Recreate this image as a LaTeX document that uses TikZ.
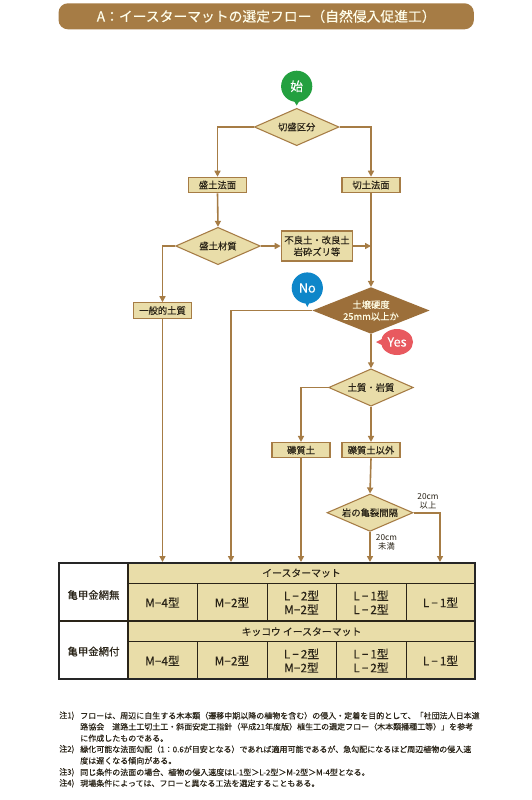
\documentclass[tikz,border=0pt]{standalone}
\usepackage{fontspec}
\setmainfont{Noto Sans CJK JP}
\newfontfamily\med[FakeBold=0.12]{Noto Sans CJK JP}
\newfontfamily\nte[FakeBold=0.08]{Noto Sans CJK JP}
\newfontfamily\lat[FakeBold=0.12]{Noto Sans}
\usetikzlibrary{shapes.geometric,arrows.meta,calc}
\definecolor{brn}{HTML}{A67C45}
\definecolor{dbrn}{HTML}{9C6F3A}
\definecolor{cream}{HTML}{E9DDA9}
\definecolor{grn}{HTML}{23A03F}
\definecolor{blu}{HTML}{0E86C9}
\definecolor{rd}{HTML}{E8595F}
\definecolor{txt}{HTML}{2A2418}
\newcommand{\mn}{{\lat −}}
\tikzset{
 flow/.style={draw=brn,line width=1.2pt,-{Triangle[length=4.5pt,width=4.5pt]}},
 boxn/.style={draw=brn,line width=0.9pt,fill=cream,inner sep=0pt,minimum height=11.5pt,minimum width=43.5pt,font=\med\fontsize{7pt}{8.8pt}\selectfont,text=txt,align=center},
 dia/.style={diamond,aspect=2.4,draw=brn,line width=0.8pt,fill=cream,inner sep=0pt,minimum width=63.5pt,minimum height=28pt,font=\med\fontsize{7pt}{8.5pt}\selectfont,text=txt,align=center},
 ctext/.style={font=\med\fontsize{8.8pt}{10.3pt}\selectfont,text=txt,align=center,inner sep=0pt},
 htext/.style={font=\med\fontsize{7.4pt}{9pt}\selectfont,text=txt,inner sep=0pt},
 stext/.style={font=\med\fontsize{7.8pt}{9pt}\selectfont,text=txt,inner sep=0pt},
 note/.style={anchor=west,inner sep=0pt,text=txt,font=\nte\fontsize{6pt}{8pt}\selectfont},
 small/.style={inner sep=0pt,text=txt,align=center,font=\fontsize{6.2pt}{6.9pt}\selectfont},
 bubble/.style={inner sep=0pt,text=white,font=\med\fontsize{9.5pt}{10pt}\selectfont},
}
\begin{document}
\begin{tikzpicture}[x=0.75pt,y=-0.75pt]
\useasboundingbox (0,0) rectangle (532,800);
\fill[white] (0,0) rectangle (532,800);
% title
\node[fill=brn,rounded corners=7pt,minimum width=311.5pt,minimum height=19.5pt,inner sep=0pt,text=white!92!yellow,font=\med\fontsize{10.35pt}{12pt}\selectfont] (title) at (266.2,16.3) {A：イースターマットの選定フロー（自然侵入促進工）\hspace{2pt}};
% flow nodes
\node[dia] (d1) at (296.7,127) {切盛区分};
\node[boxn] (b1) at (217.5,185) {盛土法面};
\node[boxn] (b2) at (371,185) {切土法面};
\node[dia] (d2) at (218,246) {盛土材質};
\node[boxn,minimum width=53.5pt,minimum height=22.5pt] (b3) at (317,246) {不良土・改良土\\岩砕ズリ等};
\node[boxn] (b4) at (162.5,310.5) {一般的土質};
\node[diamond,aspect=2.5,fill=dbrn,inner sep=0pt,minimum width=88pt,minimum height=35pt,text=white!90!yellow,align=center,font=\med\fontsize{7pt}{8.8pt}\selectfont] (d3) at (371,310.5) {土壌硬度\\25mm以上か};
\node[dia] (d4) at (371,387.5) {土質・岩質};
\node[boxn] (b5) at (301,450.2) {礫質土};
\node[boxn] (b6) at (371,450.2) {礫質土以外};
\node[dia,minimum width=64.5pt] (d5) at (370,512.7) {岩の亀裂間隔};
% table
\fill[white] (59,563) rectangle (128,679);
\fill[cream] (128,563) rectangle (475,679);
\draw[txt,line width=0.6pt] (128,583) -- (475,583) (128,641) -- (475,641);
\draw[txt,line width=0.6pt] (197,583) -- (197,621) (267,583) -- (267,621) (336,583) -- (336,621) (406,583) -- (406,621);
\draw[txt,line width=0.6pt] (197,641) -- (197,679) (267,641) -- (267,679) (336,641) -- (336,679) (406,641) -- (406,679);
\draw[txt,line width=0.9pt] (59,621) -- (475,621);
\draw[txt,line width=0.9pt] (128,563) -- (128,679);
\draw[black!85,line width=1.4pt] (59,563) rectangle (475,679);
\node[stext] (s1) at (93.5,595) {亀甲金網無};
\node[stext] (s2) at (93.5,651.5) {亀甲金網付};
\node[htext] (h1) at (301.5,573) {イースターマット};
\node[htext] (h2) at (301.5,631.7) {キッコウ イースターマット};
\node[ctext] (a1) at (162.5,602.5) {M\mn 4型};
\node[ctext] (a2) at (232,602.5) {M\mn 2型};
\node[ctext] (a3) at (301.5,602.5) {L\,\mn\,2型\\M\mn 2型};
\node[ctext] (a4) at (371,602.5) {L\,\mn\,1型\\L\,\mn\,2型};
\node[ctext] (a5) at (440.5,602.5) {L\,\mn\,1型};
\node[ctext] (c1) at (162.5,660.7) {M\mn 4型};
\node[ctext] (c2) at (232,660.7) {M\mn 2型};
\node[ctext] (c3) at (301.5,660.7) {L\,\mn\,2型\\M\mn 2型};
\node[ctext] (c4) at (371,660.7) {L\,\mn\,1型\\L\,\mn\,2型};
\node[ctext] (c5) at (440.5,660.7) {L\,\mn\,1型};
% arrow ends
\coordinate (t1) at (162.5,562);
\coordinate (t2) at (231,562);
\coordinate (t3) at (301,562);
\coordinate (t4) at (370,562);
\coordinate (t5) at (440,562);
\coordinate (j1) at (371,246);
% connectors
\draw[flow] (d1.west) -| (b1.north);
\draw[flow] (d1.east) -| (b2.north);
\draw[flow] (b1.south) -- (d2.north);
\draw[flow] (b2.south) -- (d3.north);
\draw[flow] (d2.east) -- (b3.west);
\draw[flow] (b3.east) -- (j1);
\draw[flow] (d2.west) -| (b4.north);
\draw[flow] (b4.south) -- (t1);
\draw[flow] (d3.west) -| (t2);
\draw[flow] (d3.south) -- (d4.north);
\draw[flow] (d4.west) -| (b5.north);
\draw[flow] (d4.south) -- (b6.north);
\draw[flow] (b5.south) -- (t3);
\draw[flow] (b6.south) -- (d5.north);
\draw[flow] (d5.south) -- (t4);
\draw[flow] (d5.east) -| (t5);
\node[small] (l1) at (428,501.5) {20cm\\以上};
\node[small] (l2) at (386.5,542.5) {20cm\\未満};
% bubbles
\fill[grn] (296.7,105.5) -- (291.7,97) -- (301.7,97) -- cycle;
\node[circle,fill=grn,minimum size=23.4pt,bubble] (start) at (296.7,86.3) {始};
\fill[blu] (307.3,307) -- (302.3,297) -- (312.3,297) -- cycle;
\node[circle,fill=blu,minimum size=23.4pt,bubble] (no) at (307.3,288) {No};
\fill[rd] (376,342) -- (386,337) -- (386,347) -- cycle;
\node[ellipse,fill=rd,minimum width=24pt,minimum height=19.5pt,bubble] (yes) at (397,342) {Yes};
% notes
\node[note] (n1a) at (59,715.7) {注1)};
\node[note] (n1) at (80,715.7) {フローは、周辺に自生する木本類（遷移中期以降の植物を含む）の侵入・定着を目的として、「社団法人日本道};
\node[note] (n1b) at (80,726.7) {路協会　道路土工切土工・斜面安定工指針（平成21年度版）植生工の選定フロー（木本類播種工等）」を参考};
\node[note] (n1c) at (80,738.3) {に作成したものである。};
\node[note] (n2a) at (59,749.3) {注2)};
\node[note] (n2) at (80,749.3) {緑化可能な法面勾配（1：0.6が目安となる）であれば適用可能であるが、急勾配になるほど周辺植物の侵入速};
\node[note] (n2b) at (80,760.7) {度は遅くなる傾向がある。};
\node[note] (n3a) at (59,772.3) {注3)};
\node[note] (n3) at (80,772.3) {同じ条件の法面の場合、植物の侵入速度はL-1型＞L-2型＞M-2型＞M-4型となる。};
\node[note] (n4a) at (59,783.3) {注4)};
\node[note] (n4) at (80,783.3) {現場条件によっては、フローと異なる工法を選定することもある。};
\end{tikzpicture}
\end{document}
